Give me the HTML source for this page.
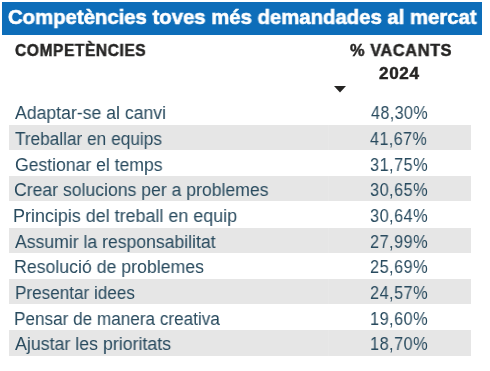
<!DOCTYPE html>
<html><head><meta charset="utf-8"><style>
html,body{margin:0;padding:0;width:490px;height:371px;overflow:hidden;background:#fff;}
body{position:relative;font-family:"Liberation Sans",sans-serif;}
.t{position:absolute;white-space:pre;line-height:1;transform-origin:0 0;will-change:transform;}
.title{color:#fff;font-weight:700;-webkit-text-stroke:0.6px #fff;}
.hd{color:#252423;font-weight:700;-webkit-text-stroke:0.45px #252423;}
.rw{position:absolute;background:#e6e6e6;}
.c{color:#284a5e;-webkit-text-stroke:0px #284a5e;}
</style></head><body>

<div style="position:absolute;left:2px;top:2px;width:480px;height:33px;background:#0d6db9"></div>
<div class="rw" style="left:9px;top:125px;width:462px;height:25px"></div>
<div class="rw" style="left:9px;top:176px;width:462px;height:25px"></div>
<div class="rw" style="left:9px;top:228px;width:462px;height:25px"></div>
<div class="rw" style="left:9px;top:279px;width:462px;height:25px"></div>
<div class="rw" style="left:9px;top:330px;width:462px;height:26px"></div>
<div class="rw" style="left:328px;top:125px;width:1px;height:25px;background:#e8e8e8"></div>
<div class="rw" style="left:328px;top:176px;width:1px;height:25px;background:#e8e8e8"></div>
<div class="rw" style="left:328px;top:228px;width:1px;height:25px;background:#e8e8e8"></div>
<div class="rw" style="left:328px;top:279px;width:1px;height:25px;background:#e8e8e8"></div>
<div class="rw" style="left:328px;top:330px;width:1px;height:26px;background:#e8e8e8"></div>
<svg style="position:absolute;left:0;top:0" width="490" height="371"><polygon points="334,86 346,86 340,92.5" fill="#252423"/></svg>
<div class="t title" style="left:7.51px;top:6.64px;font-size:20.6px;letter-spacing:0px;transform:scaleX(0.9865)">Competències toves més demandades al mercat</div>
<div class="t hd" style="left:15.45px;top:41.61px;font-size:16.5px;letter-spacing:0.6px;transform:scaleX(0.9431)">COMPETÈNCIES</div>
<div class="t hd" style="left:349.52px;top:41.94px;font-size:16.5px;letter-spacing:0.6px;transform:scaleX(0.9897)">% VACANTS</div>
<div class="t hd" style="left:379.32px;top:64.55px;font-size:16.5px;letter-spacing:0.6px;transform:scaleX(1.0378)">2024</div>
<div class="t c" style="left:15.01px;top:103.68px;font-size:18px;letter-spacing:0px;transform:scaleX(0.9807)">Adaptar-se al canvi</div>
<div class="t c" style="left:371.01px;top:104.70px;font-size:17.8px;letter-spacing:0.5px;transform:scaleX(0.9026)">48,30%</div>
<div class="t c" style="left:15.49px;top:129.57px;font-size:18px;letter-spacing:0px;transform:scaleX(0.9572)">Treballar en equips</div>
<div class="t c" style="left:369.97px;top:130.69px;font-size:17.8px;letter-spacing:0.5px;transform:scaleX(0.9048)">41,67%</div>
<div class="t c" style="left:14.51px;top:155.56px;font-size:18px;letter-spacing:0px;transform:scaleX(0.9770)">Gestionar el temps</div>
<div class="t c" style="left:370.10px;top:156.58px;font-size:17.8px;letter-spacing:0.5px;transform:scaleX(0.9181)">31,75%</div>
<div class="t c" style="left:13.53px;top:180.94px;font-size:18px;letter-spacing:0px;transform:scaleX(0.9788)">Crear solucions per a problemes</div>
<div class="t c" style="left:370.10px;top:181.96px;font-size:17.8px;letter-spacing:0.5px;transform:scaleX(0.9181)">30,65%</div>
<div class="t c" style="left:13.49px;top:206.93px;font-size:18px;letter-spacing:0px;transform:scaleX(0.9961)">Principis del treball en equip</div>
<div class="t c" style="left:370.10px;top:207.95px;font-size:17.8px;letter-spacing:0.5px;transform:scaleX(0.9181)">30,64%</div>
<div class="t c" style="left:14.50px;top:232.82px;font-size:18px;letter-spacing:0px;transform:scaleX(0.9783)">Assumir la responsabilitat</div>
<div class="t c" style="left:370.10px;top:233.94px;font-size:17.8px;letter-spacing:0.5px;transform:scaleX(0.9181)">27,99%</div>
<div class="t c" style="left:13.51px;top:257.81px;font-size:18px;letter-spacing:0px;transform:scaleX(0.9844)">Resolució de problemes</div>
<div class="t c" style="left:370.10px;top:258.83px;font-size:17.8px;letter-spacing:0.5px;transform:scaleX(0.9181)">25,69%</div>
<div class="t c" style="left:14.56px;top:283.70px;font-size:18px;letter-spacing:0px;transform:scaleX(0.9514)">Presentar idees</div>
<div class="t c" style="left:370.10px;top:284.72px;font-size:17.8px;letter-spacing:0.5px;transform:scaleX(0.9181)">24,57%</div>
<div class="t c" style="left:14.09px;top:309.68px;font-size:18px;letter-spacing:0px;transform:scaleX(0.9529)">Pensar de manera creativa</div>
<div class="t c" style="left:370.10px;top:310.70px;font-size:17.8px;letter-spacing:0.5px;transform:scaleX(0.9181)">19,60%</div>
<div class="t c" style="left:14.51px;top:334.57px;font-size:18px;letter-spacing:0px;transform:scaleX(0.9879)">Ajustar les prioritats</div>
<div class="t c" style="left:370.10px;top:335.59px;font-size:17.8px;letter-spacing:0.5px;transform:scaleX(0.9181)">18,70%</div>
</body></html>
